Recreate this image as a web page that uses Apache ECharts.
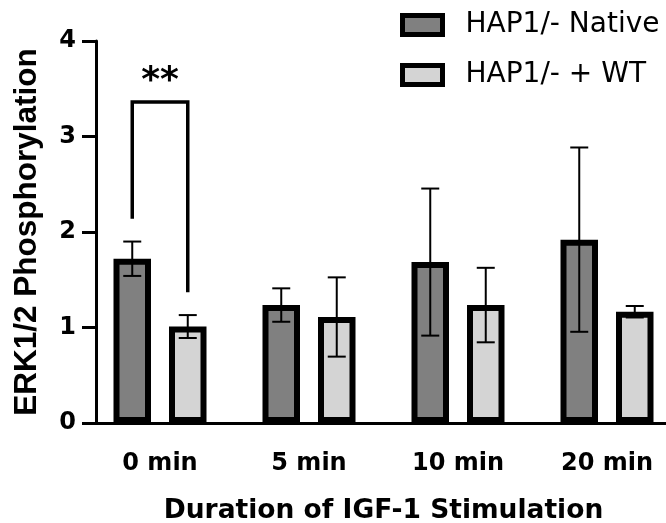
<!DOCTYPE html>
<html>
<head>
<meta charset="utf-8">
<script src="https://cdn.jsdelivr.net/npm/echarts@6/dist/echarts.min.js"></script>
<style>
  html, body { margin: 0; padding: 0; background: #fff; }
  #chart { width: 666px; height: 523px; }
</style>
</head>
<body>
<div id="chart"></div>
<script>
var categories = ["0 min", "5 min", "10 min", "20 min"];
var nativeMean = [1.72, 1.235, 1.685, 1.92];
var nativeErr = [0.18, 0.175, 0.77, 0.965];
var wtMean = [1.01, 1.11, 1.235, 1.165];
var wtErr = [0.12, 0.415, 0.39, 0.06];
var yTicks = [0, 1, 2, 3, 4];
// significance bracket at 0 min: legs bottom (native, wt), top, star height
var sigLegs = [2.14, 1.37];
var sigTop = 3.36;
var sigStarY = 3.57;
var sigText = "**";

var barWidth = 37.5;
var barGap = 0.48;
var half = barWidth * (1 + barGap) / 2;

var boldFont = "DejaVu Sans";

function errData(mean, err) {
  return mean.map(function (m, i) { return [i, m, err[i]]; });
}

function errRender(offset) {
  return function (params, api) {
    var i = api.value(0), m = api.value(1), e = api.value(2);
    var hi = api.coord([i, m + e]);
    var lo = api.coord([i, m - e]);
    var x = hi[0] + offset;
    var st = { stroke: "#000", lineWidth: 2 };
    return {
      type: "group",
      children: [
        { type: "line", shape: { x1: x, y1: hi[1], x2: x, y2: lo[1] }, style: st },
        { type: "line", shape: { x1: x - 9, y1: hi[1], x2: x + 9, y2: hi[1] }, style: st },
        { type: "line", shape: { x1: x - 9, y1: lo[1], x2: x + 9, y2: lo[1] }, style: st }
      ]
    };
  };
}

var myChart = echarts.init(document.getElementById("chart"), null, { renderer: "canvas" });

var option = {
  animation: false,
  backgroundColor: "#fff",
  grid: { left: 85.5, width: 596, top: 41, height: 382, outerBoundsMode: "none", containLabel: false },
  legend: {
    orient: "vertical",
    left: 400,
    top: 10,
    padding: 0,
    itemGap: 20,
    itemWidth: 40,
    itemHeight: 19,
    icon: "rect",
    itemStyle: { borderWidth: 5, borderColor: "#000" },
    textStyle: {
      fontFamily: boldFont,
      fontSize: 28,
      color: "#000",
      lineHeight: 30,
      padding: [0, 0, 0, 18]
    },
    data: ["HAP1/- Native", "HAP1/- + WT"]
  },
  xAxis: {
    type: "category",
    data: categories,
    name: "Duration of IGF-1 Stimulation",
    nameLocation: "middle",
    nameGap: 75,
    nameTextStyle: { fontFamily: boldFont, fontWeight: "bold", fontSize: 26.5, color: "#000" },
    axisLine: { lineStyle: { color: "#000", width: 3 } },
    axisTick: { alignWithLabel: true, length: 15, lineStyle: { color: "#000", width: 3 } },
    axisLabel: { margin: 29, fontFamily: boldFont, fontWeight: "bold", fontSize: 24, color: "#000" }
  },
  yAxis: {
    type: "value",
    min: 0,
    max: 4,
    interval: 1,
    offset: -10.5,
    name: "ERK1/2 Phosphorylation",
    nameLocation: "middle",
    nameGap: 53,
    nameTextStyle: { fontFamily: "Liberation Sans", fontWeight: "bold", fontSize: 31.5, color: "#000" },
    splitLine: { show: false },
    axisLine: { show: true, lineStyle: { color: "#000", width: 3 } },
    axisTick: { show: true, length: 14, lineStyle: { color: "#000", width: 3 } },
    axisLabel: {
      margin: 20,
      padding: [10, 0, 0, 0],
      fontFamily: boldFont,
      fontWeight: "bold",
      fontSize: 24,
      color: "#000",
      formatter: function (v) { return yTicks.indexOf(v) >= 0 ? String(v) : ""; }
    }
  },
  series: [
    {
      name: "HAP1/- Native",
      type: "bar",
      data: nativeMean,
      barWidth: barWidth,
      barGap: (barGap * 100) + "%",
      itemStyle: { color: "#808080", borderColor: "#000", borderWidth: 6 }
    },
    {
      name: "HAP1/- + WT",
      type: "bar",
      data: wtMean,
      barWidth: barWidth,
      itemStyle: { color: "#d4d4d4", borderColor: "#000", borderWidth: 6 }
    },
    {
      type: "custom",
      z: 5,
      data: errData(nativeMean, nativeErr),
      renderItem: errRender(-half),
      silent: true
    },
    {
      type: "custom",
      z: 5,
      data: errData(wtMean, wtErr),
      renderItem: errRender(half),
      silent: true
    },
    {
      type: "custom",
      z: 5,
      silent: true,
      data: [[0, sigTop]],
      renderItem: function (params, api) {
        var i = api.value(0);
        var top = api.coord([i, sigTop]);
        var l = api.coord([i, sigLegs[0]]);
        var r = api.coord([i, sigLegs[1]]);
        var star = api.coord([i, sigStarY]);
        return {
          type: "group",
          children: [
            {
              type: "polyline",
              shape: { points: [[top[0] - half, l[1]], [top[0] - half, top[1]], [top[0] + half, top[1]], [top[0] + half, r[1]]] },
              style: { stroke: "#000", lineWidth: 3.5, fill: null }
            },
            {
              type: "text",
              x: star[0],
              y: star[1],
              style: {
                text: sigText,
                fontFamily: boldFont,
                fontWeight: "bold",
                fontSize: 36,
                fill: "#000",
                align: "center",
                verticalAlign: "middle"
              }
            }
          ]
        };
      }
    }
  ]
};

myChart.setOption(option);
window.addEventListener("resize", myChart.resize);
</script>
</body>
</html>
